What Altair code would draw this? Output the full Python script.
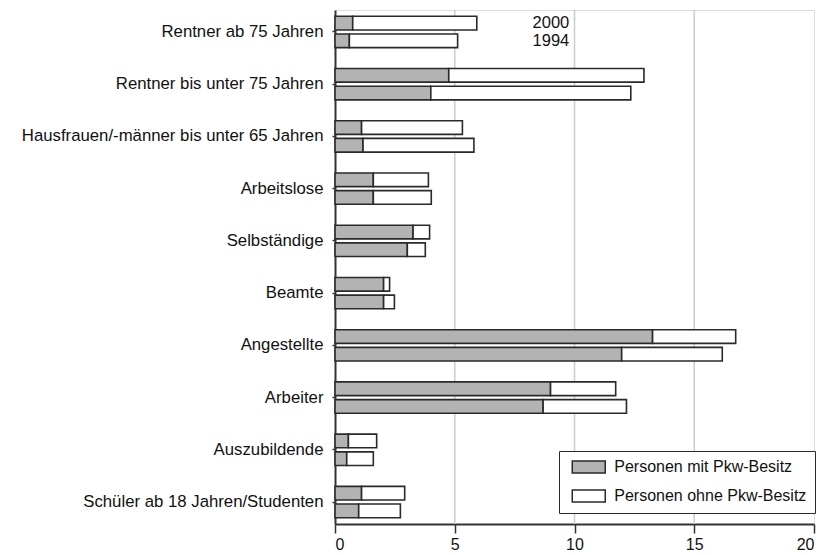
import altair as alt
import pandas as pd

FONT = "Liberation Sans"

categories = [
    "Rentner ab 75 Jahren",
    "Rentner bis unter 75 Jahren",
    "Hausfrauen/-männer bis unter 65 Jahren",
    "Arbeitslose",
    "Selbständige",
    "Beamte",
    "Angestellte",
    "Arbeiter",
    "Auszubildende",
    "Schüler ab 18 Jahren/Studenten",
]
years = ["2000", "1994"]
series = ["Personen mit Pkw-Besitz", "Personen ohne Pkw-Besitz"]

mit_2000 = [0.74, 4.75, 1.11, 1.60, 3.26, 2.03, 13.26, 9.00, 0.56, 1.11]
ohne_2000 = [5.18, 8.15, 4.21, 2.30, 0.69, 0.25, 3.47, 2.72, 1.18, 1.80]
mit_1994 = [0.60, 4.00, 1.17, 1.60, 3.02, 2.03, 11.97, 8.69, 0.49, 0.99]
ohne_1994 = [4.52, 8.35, 4.63, 2.42, 0.75, 0.45, 4.20, 3.48, 1.11, 1.74]

grid_values = [5, 10, 15]
tick_values = [0, 5, 10, 15, 20]
year_label_x = [8.25, 8.25]

rows = []
for i, c in enumerate(categories):
    for y, mit, ohne in (("2000", mit_2000, ohne_2000), ("1994", mit_1994, ohne_1994)):
        rows.append({"cat": c, "year": y, "type": series[0], "order": 0, "value": mit[i]})
        rows.append({"cat": c, "year": y, "type": series[1], "order": 1, "value": ohne[i]})
df = pd.DataFrame(rows)

grid_df = pd.DataFrame({"x": grid_values})
label_df = pd.DataFrame({"cat": [categories[0]] * 2, "year": years, "x": year_label_x})

y_enc = alt.Y("cat:N", sort=categories, title=None,
              scale=alt.Scale(paddingInner=0.4, paddingOuter=0.12),
              axis=alt.Axis(labelFont=FONT, labelFontSize=16.75, labelColor="#111",
                            domainColor="#333", domainWidth=2, tickColor="#333",
                            tickSize=3, tickWidth=1.5, labelPadding=9, labelLimit=400))
yoff_enc = alt.YOffset("year:N", sort=years,
                       scale=alt.Scale(paddingInner=0.227, paddingOuter=0))

x_scale = alt.Scale(domain=[0, 20], nice=False)

grid = alt.Chart(grid_df).mark_rule(color="#cccccc", strokeWidth=1.5).encode(
    x=alt.X("x:Q", scale=x_scale)
)

bars = alt.Chart(df).mark_bar(stroke="#2a2a2a", strokeWidth=1.6, opacity=1).encode(
    x=alt.X("sum(value):Q", scale=x_scale, title=None, stack="zero",
            axis=alt.Axis(values=tick_values, grid=False, labelFont=FONT,
                          labelFontSize=16, labelColor="#111", domainColor="#333",
                          domainWidth=2, tickColor="#333", tickSize=9, tickWidth=1.5,
                          labelPadding=3, format="d")),
    y=y_enc,
    yOffset=yoff_enc,
    color=alt.Color("type:N", sort=series, title=None,
                    scale=alt.Scale(domain=series, range=["#b3b3b3", "#ffffff"]),
                    legend=alt.Legend(orient="none", legendX=224, legendY=441,
                                      labelFont=FONT, labelFontSize=16, labelColor="#111",
                                      labelLimit=400,
                                      symbolType="M-2.75,-1H2.75V1H-2.75Z", symbolSize=144,
                                      symbolStrokeColor="#2a2a2a", symbolStrokeWidth=1.5,
                                      symbolOpacity=1, symbolOffset=13.75,
                                      strokeColor="#2a2a2a", fillColor="white",
                                      padding=8, rowPadding=11, labelOffset=17.5)),
    order=alt.Order("order:Q"),
)

labels = alt.Chart(label_df).mark_text(align="left", baseline="middle", font=FONT,
                                       fontSize=16.5, color="#111").encode(
    x=alt.X("x:Q", scale=x_scale),
    y=alt.Y("cat:N", sort=categories),
    yOffset=alt.YOffset("year:N", sort=years),
    text="year:N",
)

chart = alt.layer(grid, bars, labels).properties(
    width=479, height=514,
    autosize=alt.AutoSizeParams(type="none"),
    padding={"left": 327, "top": 2, "right": 16, "bottom": 30},
).configure_view(stroke=None).configure(background="white")

chart.save("out.html", embed_options={"renderer": "svg", "actions": False})
